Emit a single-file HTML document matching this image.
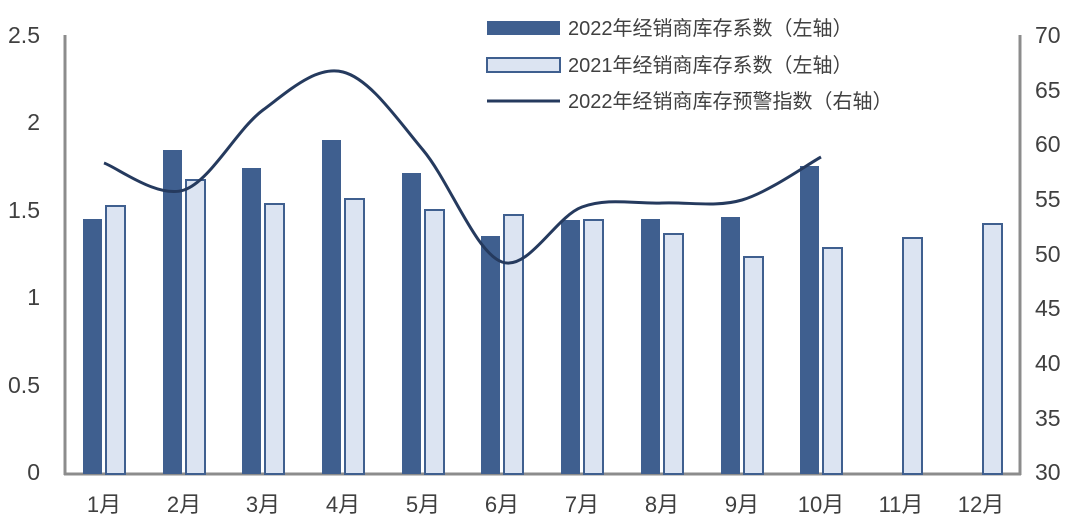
<!DOCTYPE html>
<html><head><meta charset="utf-8"><style>
body{margin:0;background:#fff;}
svg{display:block;font-family:"Liberation Sans","Noto Sans CJK SC",sans-serif;}
</style></head><body>
<svg width="1080" height="528" viewBox="0 0 1080 528">
<g stroke="#8c8c8c" stroke-width="3" fill="none">
<line x1="65" y1="35" x2="65" y2="475"/>
<line x1="1020" y1="35" x2="1020" y2="475"/>
<line x1="64" y1="474" x2="1021" y2="474"/>
</g>
<g font-size="23" fill="#404040" text-anchor="end">
<text x="40" y="43">2.5</text><text x="40" y="130">2</text><text x="40" y="218">1.5</text>
<text x="40" y="305">1</text><text x="40" y="393">0.5</text><text x="40" y="480">0</text>
</g>
<g font-size="23" fill="#404040" text-anchor="start">
<text x="1035" y="43">70</text><text x="1035" y="98">65</text><text x="1035" y="152">60</text>
<text x="1035" y="207">55</text><text x="1035" y="262">50</text><text x="1035" y="316">45</text>
<text x="1035" y="371">40</text><text x="1035" y="426">35</text><text x="1035" y="480">30</text>
</g>
<g font-size="22" fill="#404040" text-anchor="middle">
<text x="104" y="512">1月</text><text x="184" y="512">2月</text><text x="263" y="512">3月</text>
<text x="343" y="512">4月</text><text x="423" y="512">5月</text><text x="502" y="512">6月</text>
<text x="582" y="512">7月</text><text x="662" y="512">8月</text><text x="742" y="512">9月</text>
<text x="821" y="512">10月</text><text x="901" y="512">11月</text><text x="981" y="512">12月</text>
</g>
<g fill="#3f5f8f">
<rect x="83" y="219" width="19" height="255"/>
<rect x="163" y="150" width="19" height="324"/>
<rect x="242" y="168" width="19" height="306"/>
<rect x="322" y="140" width="19" height="334"/>
<rect x="402" y="173" width="19" height="301"/>
<rect x="481" y="236" width="19" height="238"/>
<rect x="561" y="220" width="19" height="254"/>
<rect x="641" y="219" width="19" height="255"/>
<rect x="721" y="217" width="19" height="257"/>
<rect x="800" y="166" width="19" height="308"/>
</g>
<g fill="#dce4f2" stroke="#3f5f8f" stroke-width="2">
<rect x="106" y="206" width="19" height="268"/>
<rect x="186" y="180" width="19" height="294"/>
<rect x="265" y="204" width="19" height="270"/>
<rect x="345" y="199" width="19" height="275"/>
<rect x="425" y="210" width="19" height="264"/>
<rect x="504" y="215" width="19" height="259"/>
<rect x="584" y="220" width="19" height="254"/>
<rect x="664" y="234" width="19" height="240"/>
<rect x="744" y="257" width="19" height="217"/>
<rect x="823" y="248" width="19" height="226"/>
<rect x="903" y="238" width="19" height="236"/>
<rect x="983" y="224" width="19" height="250"/>
</g>
<path d="M104,163 C117.3,167.5 157.5,198.8 184,190 C210.5,181.2 236.5,129.7 263,110 C289.5,90.3 316.3,65.3 343,72 C369.7,78.7 396.5,118.3 423,150 C449.5,181.7 475.5,252.5 502,262 C528.5,271.5 555.3,216.8 582,207 C608.7,197.2 635.3,204.2 662,203 C688.7,201.8 715.5,207.7 742,200 C768.5,192.3 807.8,164.2 821,157" fill="none" stroke="#253a5e" stroke-width="3"/>
<rect x="487" y="21" width="73" height="14" fill="#3f5f8f"/>
<rect x="487" y="58" width="73" height="14" fill="#dce4f2" stroke="#3f5f8f" stroke-width="2"/>
<line x1="487" y1="101" x2="560" y2="101" stroke="#253a5e" stroke-width="3"/>
<g font-size="20" fill="#404040">
<text x="568" y="35">2022年经销商库存系数（左轴）</text>
<text x="568" y="72">2021年经销商库存系数（左轴）</text>
<text x="568" y="108">2022年经销商库存预警指数（右轴）</text>
</g>
</svg>
</body></html>
